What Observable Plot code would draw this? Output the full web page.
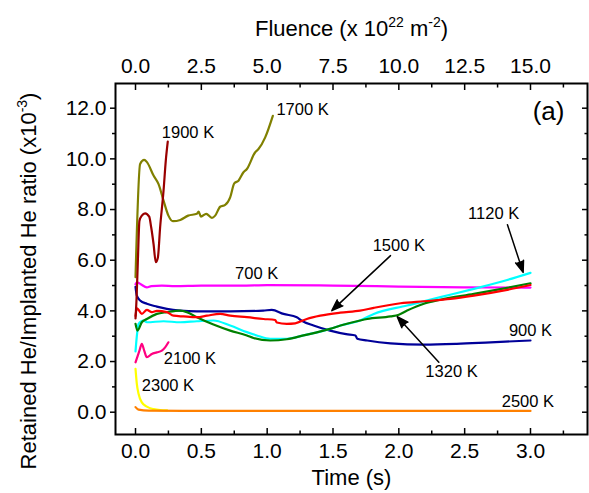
<!DOCTYPE html>
<html><head><meta charset="utf-8">
<script src="https://cdn.jsdelivr.net/npm/d3@7"></script>
<script src="https://cdn.jsdelivr.net/npm/@observablehq/plot@0.6"></script>
<style>
body{margin:0;background:#fff}
svg{display:block}
</style>
</head><body><div id="chart"></div>
<script>
// ---- tick values ----
const timeTicks = [0, 0.5, 1, 1.5, 2, 2.5, 3];
const timeMinor = [0.25, 0.75, 1.25, 1.75, 2.25, 2.75, 3.25];
const fluenceTicks = [0, 2.5, 5, 7.5, 10, 12.5, 15];
const fluenceMinor = [1.25, 3.75, 6.25, 8.75, 11.25, 13.75, 16.25];
const ratioTicks = [0, 2, 4, 6, 8, 10, 12];
const ratioMinor = [1, 3, 5, 7, 9, 11];

// ---- series: [time (s), ratio (x1e-3)] ----
const s700 = [[0,5.05],[0.01,5.13],[0.04,5.05],[0.086,4.93],[0.12,4.98],[0.2,5.0],[0.3,4.98],[0.5,5.0],[0.8,5.0],[1.0,5.02],[1.5,5.0],[2.0,4.96],[2.5,4.93],[3.0,4.92]];
const s900 = [[0,4.95],[0.01,4.6],[0.035,4.41],[0.086,4.28],[0.162,4.17],[0.238,4.08],[0.339,4.01],[0.466,3.98],[0.72,3.98],[0.97,4.01],[1.035,4.04],[1.124,3.88],[1.225,3.75],[1.26,3.62],[1.352,3.42],[1.478,3.22],[1.6,3.08],[1.671,3.03],[1.684,2.9],[1.76,2.83],[1.937,2.72],[2.19,2.67],[2.44,2.7],[2.696,2.76],[3.0,2.83]];
const s1120 = [[0,2.4],[0.01,3.0],[0.023,3.49],[0.06,3.62],[0.086,3.55],[0.213,3.59],[0.339,3.55],[0.466,3.59],[0.592,3.62],[0.719,3.42],[0.846,3.16],[0.921,3.03],[1.023,2.9],[1.149,2.9],[1.276,3.03],[1.478,3.29],[1.557,3.42],[1.706,3.62],[1.81,3.88],[2.063,4.21],[2.316,4.54],[2.57,4.87],[2.823,5.22],[3.0,5.5]];
const s1320 = [[0,3.49],[0.015,3.22],[0.048,3.55],[0.086,3.68],[0.162,3.88],[0.238,3.95],[0.339,4.01],[0.39,3.95],[0.466,3.75],[0.592,3.46],[0.719,3.22],[0.846,3.03],[0.896,2.93],[1.023,2.83],[1.149,2.88],[1.276,3.03],[1.478,3.29],[1.557,3.42],[1.706,3.62],[1.76,3.68],[1.937,3.78],[2.0,3.85],[2.063,4.01],[2.19,4.28],[2.316,4.44],[2.57,4.67],[2.823,4.91],[3.0,5.09]];
const s1500 = [[0,3.8],[0.01,4.1],[0.023,4.04],[0.048,3.88],[0.086,4.04],[0.124,3.95],[0.162,4.0],[0.238,3.95],[0.289,3.81],[0.365,3.78],[0.466,3.75],[0.542,3.81],[0.643,3.88],[0.719,3.81],[0.846,3.75],[0.972,3.68],[1.061,3.64],[1.073,3.54],[1.149,3.49],[1.213,3.51],[1.301,3.68],[1.403,3.81],[1.555,3.93],[1.706,4.01],[1.81,4.12],[2.013,4.3],[2.19,4.38],[2.392,4.47],[2.57,4.6],[2.823,4.83],[3.0,5.02]];
const s1700 = [[0,5.33],[0.035,9.8],[0.066,9.96],[0.087,9.87],[0.137,9.34],[0.175,9.0],[0.213,8.35],[0.25,7.76],[0.284,7.54],[0.34,7.59],[0.40,7.76],[0.466,7.83],[0.479,7.92],[0.497,7.72],[0.537,7.83],[0.58,7.67],[0.605,7.76],[0.643,8.11],[0.681,8.18],[0.719,8.48],[0.75,9.03],[0.782,9.14],[0.82,9.47],[0.846,9.6],[0.909,10.26],[0.934,10.39],[0.985,10.85],[1.043,11.7]];
const s1900 = [[0,3.7],[0.008,4.5],[0.018,6.0],[0.03,7.56],[0.048,7.76],[0.073,7.85],[0.104,7.72],[0.119,7.3],[0.137,6.64],[0.154,5.92],[0.17,6.11],[0.187,7.3],[0.213,8.75],[0.23,9.93],[0.245,10.68]];
const s2100 = [[0,1.97],[0.03,2.43],[0.048,2.7],[0.066,2.43],[0.086,2.17],[0.124,2.3],[0.162,2.36],[0.2,2.43],[0.225,2.56],[0.25,2.76]];
const s2300 = [[0,1.71],[0.01,1.12],[0.023,0.73],[0.048,0.39],[0.086,0.22],[0.137,0.12],[0.187,0.08],[0.24,0.07]];
const s2500 = [[0,0.2],[0.023,0.1],[0.1,0.06],[0.5,0.05],[1,0.05],[2,0.05],[3,0.05]];

const seriesNames = ["700 K","900 K","1120 K","1320 K","1500 K","1700 K","1900 K","2100 K","2300 K","2500 K"];
const seriesData = [s700, s900, s1120, s1320, s1500, s1700, s1900, s2100, s2300, s2500];
const seriesColors = ["#ff00ff","#000099","#00ffff","#008000","#ff0000","#808000","#990000","#ff0080","#ffff00","#ff8000"];

// ---- annotations ----
const labelText   = ["1700 K","1900 K","700 K","900 K","1120 K","1500 K","1320 K","2100 K","2300 K","2500 K"];
const labelT      = [1.07, 0.2, 0.92, 3.0, 2.72, 2.0, 2.4, 0.215, 0.048, 2.98];
const labelV      = [11.95, 11.05, 5.46, 3.22, 7.83, 6.58, 1.58, 2.13, 1.05, 0.43];
const labelAnchor = ["start","start","middle","middle","middle","middle","middle","start","start","middle"];

const arrowFromT = [2.825, 1.937, 2.304];
const arrowFromV = [7.4, 6.18, 1.97];
const arrowToT   = [2.944, 1.491, 1.988];
const arrowToV   = [5.52, 4.01, 3.77];

const panelLabel = ["(a)"];
const panelT = [3.258], panelV = [11.85];

// ---- build tables ----
const rows = [];
seriesData.forEach((s, i) => s.forEach(([t, v]) => rows.push({t, v, series: seriesNames[i]})));
const labels = labelText.map((text, i) => ({text, t: labelT[i], v: labelV[i], anchor: labelAnchor[i]}));
const arrows = arrowFromT.map((_, i) => ({x1: arrowFromT[i], y1: arrowFromV[i], x2: arrowToT[i], y2: arrowToV[i]}));

const font = "'Liberation Sans', Arial, Helvetica, sans-serif";
const blank = () => "";

const chart = Plot.plot({
  width: 589,
  height: 493,
  marginLeft: 115,
  marginRight: 2,
  marginTop: 83,
  marginBottom: 59,
  style: {fontFamily: font, fontSize: "21px", color: "#000", background: "#fff"},
  x: {domain: [-0.152, 3.433]},
  y: {domain: [-0.88, 12.975]},
  color: {domain: seriesNames, range: seriesColors},
  marks: [
    // lines
    Plot.line(rows, {x: "t", y: "v", z: "series", stroke: "series", strokeWidth: 2.2, curve: "monotone-x"}),
    // labels
    Plot.text(labels.filter(d => d.anchor === "start"), {x: "t", y: "v", text: "text", textAnchor: "start", fontSize: 16.5, fill: "#000"}),
    Plot.text(labels.filter(d => d.anchor === "middle"), {x: "t", y: "v", text: "text", textAnchor: "middle", fontSize: 16.5, fill: "#000"}),
    Plot.arrow(arrows, {x1: "x1", y1: "y1", x2: "x2", y2: "y2", stroke: "#000", fill: "#000", strokeWidth: 1.5, headLength: 12, headAngle: 40}),
    Plot.text(panelLabel, {x: panelT, y: panelV, text: d => d, textAnchor: "end", fontSize: 26, fill: "#000"}),
    // bottom axis (ticks inward)
    Plot.axisX(timeTicks, {anchor: "bottom", tickSize: 0, tickPadding: 9, tickFormat: d => d.toFixed(1), label: null}),
    Plot.axisX(timeTicks, {anchor: "bottom", tickSize: -6, tickFormat: blank, label: null, strokeWidth: 1.5}),
    Plot.axisX(timeMinor, {anchor: "bottom", tickSize: -3.5, tickFormat: blank, label: null, strokeWidth: 1.5}),
    // top axis (fluence = 5 x time)
    Plot.axisX(fluenceTicks.map(f => f / 5), {anchor: "top", tickSize: 0, tickPadding: 11, tickFormat: d => (d * 5).toFixed(1), label: null}),
    Plot.axisX(fluenceTicks.map(f => f / 5), {anchor: "top", tickSize: -6, tickFormat: blank, label: null, strokeWidth: 1.5}),
    Plot.axisX(fluenceMinor.map(f => f / 5).filter(d => d < 3.43), {anchor: "top", tickSize: -3.5, tickFormat: blank, label: null, strokeWidth: 1.5}),
    // left axis (ticks outward)
    Plot.axisY(ratioTicks, {anchor: "left", tickSize: 0, tickPadding: 9, tickFormat: d => d.toFixed(1), label: null}),
    Plot.axisY(ratioTicks, {anchor: "left", tickSize: 5, tickFormat: blank, label: null, strokeWidth: 1.5}),
    Plot.axisY(ratioMinor, {anchor: "left", tickSize: 3, tickFormat: blank, label: null, strokeWidth: 1.5}),
    // right axis (ticks inward)
    Plot.axisY(ratioTicks, {anchor: "right", tickSize: -6, tickFormat: blank, label: null, strokeWidth: 1.5}),
    Plot.axisY(ratioMinor, {anchor: "right", tickSize: -3.5, tickFormat: blank, label: null, strokeWidth: 1.5}),
    // frame
    Plot.frame({stroke: "#000", strokeWidth: 2}),
    // axis titles
    Plot.text(["Time (s)"], {frameAnchor: "bottom", textAnchor: "middle", dy: 35, lineAnchor: "top", fontSize: 22, fill: "#000"}),
    Plot.text(["FLUENCE_TITLE"], {frameAnchor: "top", textAnchor: "middle", dy: -55, lineAnchor: "middle", fontSize: 22, fill: "#000"}),
    Plot.text(["YAXIS_TITLE"], {frameAnchor: "left", textAnchor: "middle", dx: -87, dy: 22, rotate: -90, lineAnchor: "middle", fontSize: 22, fill: "#000"})
  ]
});

// superscripts in titles
d3.select(chart).selectAll("text").each(function() {
  const t = d3.select(this);
  if (t.text() === "FLUENCE_TITLE") {
    t.text(null);
    t.append("tspan").text("Fluence (x 10");
    t.append("tspan").text("22").attr("font-size", 14).attr("dy", "-9");
    t.append("tspan").text(" m").attr("dy", "9");
    t.append("tspan").text("-2").attr("font-size", 14).attr("dy", "-9");
    t.append("tspan").text(")").attr("dy", "9");
  } else if (t.text() === "YAXIS_TITLE") {
    t.text(null);
    t.append("tspan").text("Retained He/Implanted He ratio (x10");
    t.append("tspan").text("-3").attr("font-size", 14).attr("dy", "-9");
    t.append("tspan").text(")").attr("dy", "9");
  }
});

document.getElementById("chart").appendChild(chart);
</script>
</body></html>
